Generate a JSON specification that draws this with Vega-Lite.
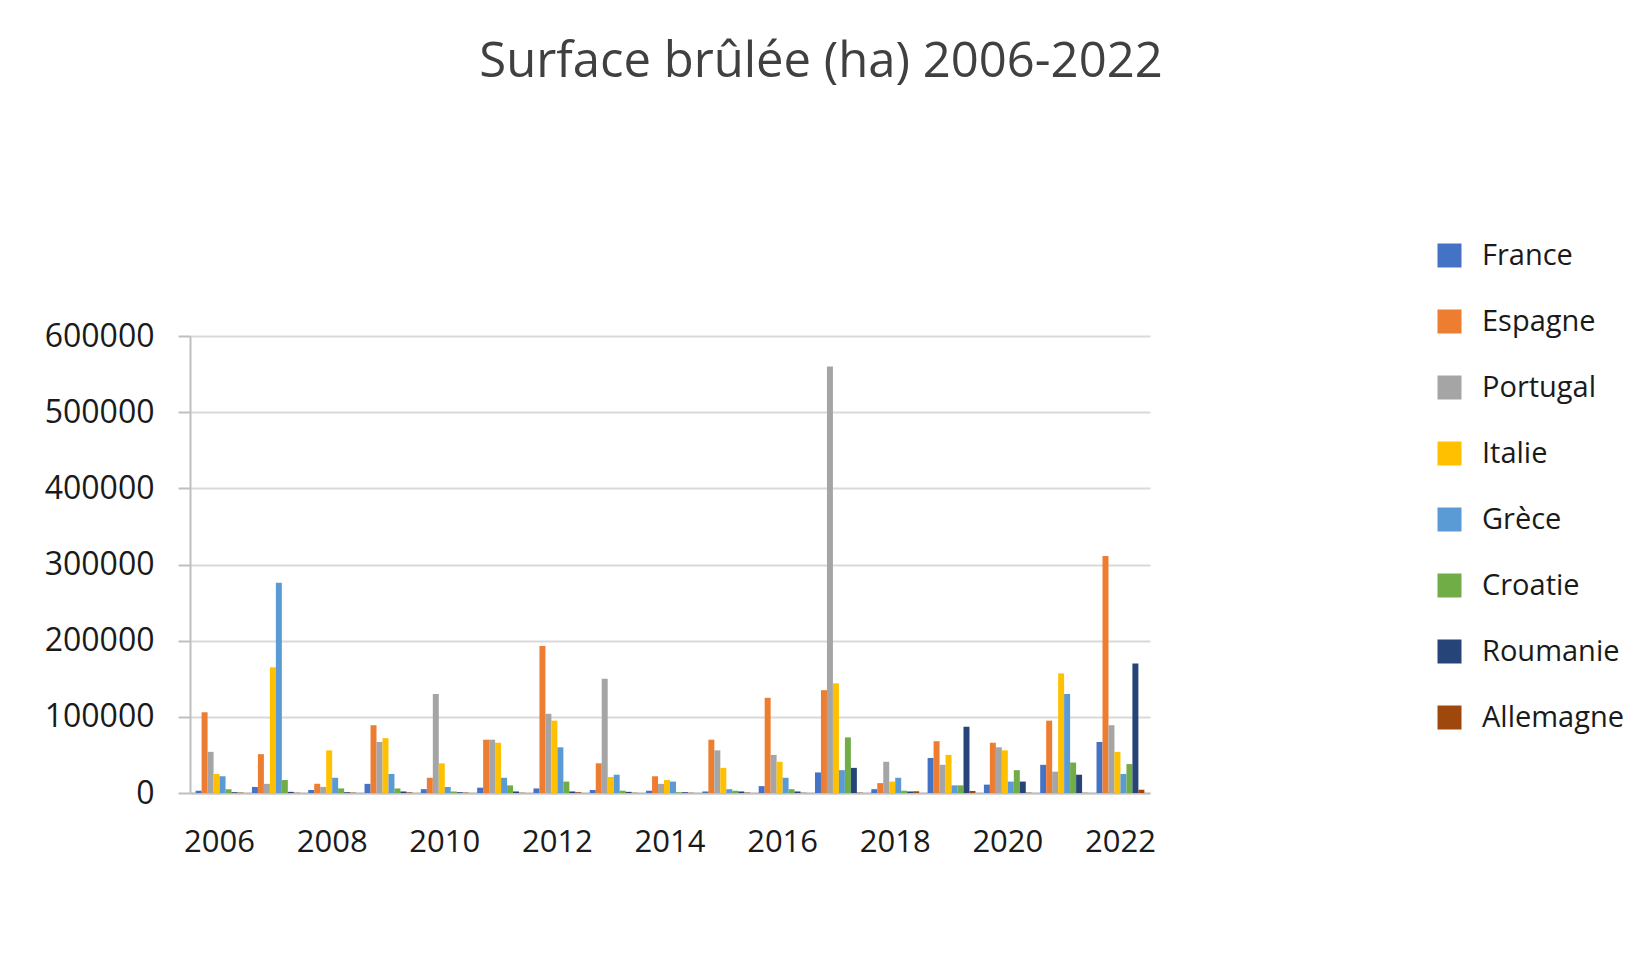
{
  "$schema": "https://vega.github.io/schema/vega-lite/v6.json",
  "background": "white",
  "autosize": {"type": "none"},
  "padding": {"left": 190, "top": 336, "right": 487, "bottom": 168},
  "width": 960,
  "height": 457,
  "title": {
    "text": "Surface brûlée (ha) 2006-2022",
    "frame": "group",
    "anchor": "middle",
    "baseline": "alphabetic",
    "offset": 115,
    "dx": 151,
    "font": "Open Sans",
    "fontSize": 49,
    "fontWeight": "normal",
    "color": "#404040"
  },
  "data": {
    "values": [
      {"annee": 2006, "pays": "France", "surface": 3000},
      {"annee": 2006, "pays": "Espagne", "surface": 106000},
      {"annee": 2006, "pays": "Portugal", "surface": 54000},
      {"annee": 2006, "pays": "Italie", "surface": 25000},
      {"annee": 2006, "pays": "Grèce", "surface": 22000},
      {"annee": 2006, "pays": "Croatie", "surface": 5000},
      {"annee": 2006, "pays": "Roumanie", "surface": 1000},
      {"annee": 2006, "pays": "Allemagne", "surface": 500},
      {"annee": 2007, "pays": "France", "surface": 8000},
      {"annee": 2007, "pays": "Espagne", "surface": 51000},
      {"annee": 2007, "pays": "Portugal", "surface": 12000},
      {"annee": 2007, "pays": "Italie", "surface": 165000},
      {"annee": 2007, "pays": "Grèce", "surface": 276000},
      {"annee": 2007, "pays": "Croatie", "surface": 17000},
      {"annee": 2007, "pays": "Roumanie", "surface": 1500},
      {"annee": 2007, "pays": "Allemagne", "surface": 300},
      {"annee": 2008, "pays": "France", "surface": 4000},
      {"annee": 2008, "pays": "Espagne", "surface": 12000},
      {"annee": 2008, "pays": "Portugal", "surface": 8000},
      {"annee": 2008, "pays": "Italie", "surface": 56000},
      {"annee": 2008, "pays": "Grèce", "surface": 20000},
      {"annee": 2008, "pays": "Croatie", "surface": 6000},
      {"annee": 2008, "pays": "Roumanie", "surface": 1000},
      {"annee": 2008, "pays": "Allemagne", "surface": 500},
      {"annee": 2009, "pays": "France", "surface": 12000},
      {"annee": 2009, "pays": "Espagne", "surface": 89000},
      {"annee": 2009, "pays": "Portugal", "surface": 67000},
      {"annee": 2009, "pays": "Italie", "surface": 72000},
      {"annee": 2009, "pays": "Grèce", "surface": 25000},
      {"annee": 2009, "pays": "Croatie", "surface": 6000},
      {"annee": 2009, "pays": "Roumanie", "surface": 2000},
      {"annee": 2009, "pays": "Allemagne", "surface": 800},
      {"annee": 2010, "pays": "France", "surface": 5000},
      {"annee": 2010, "pays": "Espagne", "surface": 20000},
      {"annee": 2010, "pays": "Portugal", "surface": 130000},
      {"annee": 2010, "pays": "Italie", "surface": 39000},
      {"annee": 2010, "pays": "Grèce", "surface": 8000},
      {"annee": 2010, "pays": "Croatie", "surface": 2000},
      {"annee": 2010, "pays": "Roumanie", "surface": 1000},
      {"annee": 2010, "pays": "Allemagne", "surface": 500},
      {"annee": 2011, "pays": "France", "surface": 7000},
      {"annee": 2011, "pays": "Espagne", "surface": 70000},
      {"annee": 2011, "pays": "Portugal", "surface": 70000},
      {"annee": 2011, "pays": "Italie", "surface": 66000},
      {"annee": 2011, "pays": "Grèce", "surface": 20000},
      {"annee": 2011, "pays": "Croatie", "surface": 10000},
      {"annee": 2011, "pays": "Roumanie", "surface": 2000},
      {"annee": 2011, "pays": "Allemagne", "surface": 300},
      {"annee": 2012, "pays": "France", "surface": 6000},
      {"annee": 2012, "pays": "Espagne", "surface": 193000},
      {"annee": 2012, "pays": "Portugal", "surface": 104000},
      {"annee": 2012, "pays": "Italie", "surface": 95000},
      {"annee": 2012, "pays": "Grèce", "surface": 60000},
      {"annee": 2012, "pays": "Croatie", "surface": 15000},
      {"annee": 2012, "pays": "Roumanie", "surface": 2000},
      {"annee": 2012, "pays": "Allemagne", "surface": 1000},
      {"annee": 2013, "pays": "France", "surface": 4000},
      {"annee": 2013, "pays": "Espagne", "surface": 39000},
      {"annee": 2013, "pays": "Portugal", "surface": 150000},
      {"annee": 2013, "pays": "Italie", "surface": 21000},
      {"annee": 2013, "pays": "Grèce", "surface": 24000},
      {"annee": 2013, "pays": "Croatie", "surface": 3000},
      {"annee": 2013, "pays": "Roumanie", "surface": 1500},
      {"annee": 2013, "pays": "Allemagne", "surface": 300},
      {"annee": 2014, "pays": "France", "surface": 3000},
      {"annee": 2014, "pays": "Espagne", "surface": 22000},
      {"annee": 2014, "pays": "Portugal", "surface": 12000},
      {"annee": 2014, "pays": "Italie", "surface": 17000},
      {"annee": 2014, "pays": "Grèce", "surface": 15000},
      {"annee": 2014, "pays": "Croatie", "surface": 1000},
      {"annee": 2014, "pays": "Roumanie", "surface": 1000},
      {"annee": 2014, "pays": "Allemagne", "surface": 300},
      {"annee": 2015, "pays": "France", "surface": 2000},
      {"annee": 2015, "pays": "Espagne", "surface": 70000},
      {"annee": 2015, "pays": "Portugal", "surface": 56000},
      {"annee": 2015, "pays": "Italie", "surface": 33000},
      {"annee": 2015, "pays": "Grèce", "surface": 5000},
      {"annee": 2015, "pays": "Croatie", "surface": 3000},
      {"annee": 2015, "pays": "Roumanie", "surface": 2000},
      {"annee": 2015, "pays": "Allemagne", "surface": 500},
      {"annee": 2016, "pays": "France", "surface": 9000},
      {"annee": 2016, "pays": "Espagne", "surface": 125000},
      {"annee": 2016, "pays": "Portugal", "surface": 50000},
      {"annee": 2016, "pays": "Italie", "surface": 41000},
      {"annee": 2016, "pays": "Grèce", "surface": 20000},
      {"annee": 2016, "pays": "Croatie", "surface": 5000},
      {"annee": 2016, "pays": "Roumanie", "surface": 2000},
      {"annee": 2016, "pays": "Allemagne", "surface": 300},
      {"annee": 2017, "pays": "France", "surface": 27000},
      {"annee": 2017, "pays": "Espagne", "surface": 135000},
      {"annee": 2017, "pays": "Portugal", "surface": 560000},
      {"annee": 2017, "pays": "Italie", "surface": 144000},
      {"annee": 2017, "pays": "Grèce", "surface": 30000},
      {"annee": 2017, "pays": "Croatie", "surface": 73000},
      {"annee": 2017, "pays": "Roumanie", "surface": 33000},
      {"annee": 2017, "pays": "Allemagne", "surface": 400},
      {"annee": 2018, "pays": "France", "surface": 5000},
      {"annee": 2018, "pays": "Espagne", "surface": 13000},
      {"annee": 2018, "pays": "Portugal", "surface": 41000},
      {"annee": 2018, "pays": "Italie", "surface": 15000},
      {"annee": 2018, "pays": "Grèce", "surface": 20000},
      {"annee": 2018, "pays": "Croatie", "surface": 3000},
      {"annee": 2018, "pays": "Roumanie", "surface": 2000},
      {"annee": 2018, "pays": "Allemagne", "surface": 2300},
      {"annee": 2019, "pays": "France", "surface": 46000},
      {"annee": 2019, "pays": "Espagne", "surface": 68000},
      {"annee": 2019, "pays": "Portugal", "surface": 37000},
      {"annee": 2019, "pays": "Italie", "surface": 50000},
      {"annee": 2019, "pays": "Grèce", "surface": 10000},
      {"annee": 2019, "pays": "Croatie", "surface": 10000},
      {"annee": 2019, "pays": "Roumanie", "surface": 87000},
      {"annee": 2019, "pays": "Allemagne", "surface": 2700},
      {"annee": 2020, "pays": "France", "surface": 11000},
      {"annee": 2020, "pays": "Espagne", "surface": 66000},
      {"annee": 2020, "pays": "Portugal", "surface": 60000},
      {"annee": 2020, "pays": "Italie", "surface": 56000},
      {"annee": 2020, "pays": "Grèce", "surface": 15000},
      {"annee": 2020, "pays": "Croatie", "surface": 30000},
      {"annee": 2020, "pays": "Roumanie", "surface": 15000},
      {"annee": 2020, "pays": "Allemagne", "surface": 400},
      {"annee": 2021, "pays": "France", "surface": 37000},
      {"annee": 2021, "pays": "Espagne", "surface": 95000},
      {"annee": 2021, "pays": "Portugal", "surface": 28000},
      {"annee": 2021, "pays": "Italie", "surface": 157000},
      {"annee": 2021, "pays": "Grèce", "surface": 130000},
      {"annee": 2021, "pays": "Croatie", "surface": 40000},
      {"annee": 2021, "pays": "Roumanie", "surface": 24000},
      {"annee": 2021, "pays": "Allemagne", "surface": 200},
      {"annee": 2022, "pays": "France", "surface": 67000},
      {"annee": 2022, "pays": "Espagne", "surface": 311000},
      {"annee": 2022, "pays": "Portugal", "surface": 89000},
      {"annee": 2022, "pays": "Italie", "surface": 54000},
      {"annee": 2022, "pays": "Grèce", "surface": 25000},
      {"annee": 2022, "pays": "Croatie", "surface": 38000},
      {"annee": 2022, "pays": "Roumanie", "surface": 170000},
      {"annee": 2022, "pays": "Allemagne", "surface": 4300}
    ]
  },
  "mark": {"type": "bar"},
  "encoding": {
    "x": {
      "field": "annee",
      "type": "ordinal",
      "title": null,
      "scale": {"paddingInner": 0.15, "paddingOuter": 0.1},
      "axis": {
        "labelExpr": "datum.value % 2 == 0 ? datum.label : ''",
        "labelAngle": 0,
        "labelFont": "Open Sans",
        "labelFontSize": 31,
        "labelColor": "#1a1a1a",
        "labelPadding": 34,
        "ticks": false,
        "domainColor": "#bfbfbf",
        "domainWidth": 2
      }
    },
    "xOffset": {
      "field": "pays",
      "type": "nominal",
      "sort": ["France", "Espagne", "Portugal", "Italie", "Grèce", "Croatie", "Roumanie", "Allemagne"]
    },
    "y": {
      "field": "surface",
      "type": "quantitative",
      "title": null,
      "scale": {"domain": [0, 600000]},
      "axis": {
        "values": [0, 100000, 200000, 300000, 400000, 500000, 600000],
        "format": "d",
        "labelFont": "Open Sans",
        "labelFontSize": 32,
        "labelColor": "#1a1a1a",
        "labelPadding": 24,
        "tickSize": 12,
        "tickColor": "#bfbfbf",
        "tickWidth": 2,
        "domainColor": "#bfbfbf",
        "domainWidth": 2,
        "gridColor": "#d9d9d9",
        "gridWidth": 2
      }
    },
    "color": {
      "field": "pays",
      "type": "nominal",
      "sort": ["France", "Espagne", "Portugal", "Italie", "Grèce", "Croatie", "Roumanie", "Allemagne"],
      "scale": {
        "domain": ["France", "Espagne", "Portugal", "Italie", "Grèce", "Croatie", "Roumanie", "Allemagne"],
        "range": ["#4472c4", "#ed7d31", "#a5a5a5", "#ffc000", "#5b9bd5", "#70ad47", "#264478", "#9e480e"]
      },
      "legend": {
        "title": null,
        "orient": "none",
        "legendX": 1245,
        "legendY": -95,
        "symbolType": "square",
        "symbolSize": 576,
        "symbolStrokeWidth": 0,
        "labelFont": "Open Sans",
        "labelFontSize": 29,
        "labelColor": "#1a1a1a",
        "labelOffset": 18,
        "rowPadding": 36
      }
    }
  },
  "config": {
    "view": {"stroke": null}
  }
}
